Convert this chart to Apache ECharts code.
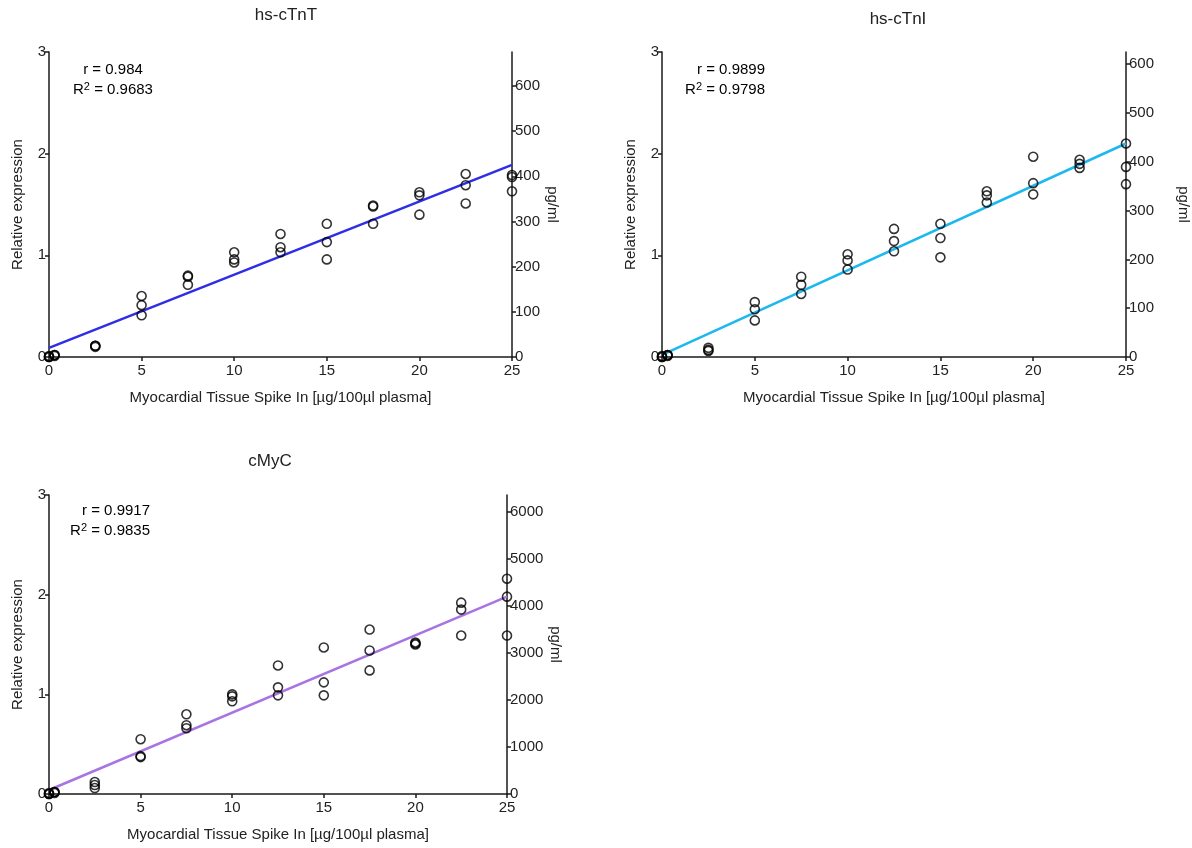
<!DOCTYPE html>
<html>
<head>
<meta charset="utf-8">
<script src="https://cdn.jsdelivr.net/npm/echarts@6/dist/echarts.min.js"></script>
<style>
html, body { margin: 0; padding: 0; background: #fff; }
#chart { width: 1192px; height: 848px; }
</style>
</head>
<body>
<div id="chart"></div>
<script>
// spike-in doses, µg/100µl plasma (3 replicates each)
const doses = [0, 0.3, 2.5, 5, 7.5, 10, 12.5, 15, 17.5, 20, 22.5, 25];

const tntValues = [
    [0, 0, 0.01], [0.01, 0.02, 0.02], [0.10, 0.11, 0.11], [0.60, 0.51, 0.41],
    [0.80, 0.79, 0.71], [1.03, 0.96, 0.93], [1.21, 1.08, 1.03], [1.31, 1.13, 0.96],
    [1.49, 1.48, 1.31], [1.62, 1.59, 1.40], [1.80, 1.69, 1.51], [1.79, 1.77, 1.63]
];
const tniValues = [
    [0, 0, 0.01], [0.01, 0.02, 0.02], [0.09, 0.07, 0.06], [0.54, 0.47, 0.36],
    [0.79, 0.71, 0.62], [1.01, 0.95, 0.86], [1.26, 1.14, 1.04], [1.31, 1.17, 0.98],
    [1.63, 1.59, 1.52], [1.97, 1.71, 1.60], [1.94, 1.90, 1.86], [2.10, 1.87, 1.70]
];
const cmycValues = [
    [0, 0, 0.01], [0.01, 0.02, 0.02], [0.12, 0.09, 0.06], [0.55, 0.38, 0.37],
    [0.80, 0.69, 0.66], [1.00, 0.98, 0.93], [1.29, 1.07, 0.99], [1.47, 1.12, 0.99],
    [1.65, 1.44, 1.24], [1.52, 1.51, 1.50], [1.92, 1.85, 1.59], [2.16, 1.98, 1.59]
];

// regression line end points at dose 0 and 25
const fitX = [0, 25];
const tntFit = [0.09, 1.89];
const tniFit = [0.02, 2.10];
const cmycFit = [0.04, 1.98];

const titles = ["hs-cTnT", "hs-cTnI", "cMyC"];
const rValues = ["0.984", "0.9899", "0.9917"];
const r2Values = ["0.9683", "0.9798", "0.9835"];

// right axis (pg/ml) range equal to 3 relative units
const pgMax = [675, 625, 6360];
const pgTicks = [
    [0, 100, 200, 300, 400, 500, 600],
    [0, 100, 200, 300, 400, 500, 600],
    [0, 1000, 2000, 3000, 4000, 5000, 6000]
];

const xName = "Myocardial Tissue Spike In [\u00b5g/100\u00b5l plasma]";
const lineColors = ["#2e2ee6", "#1cb8ee", "#a874e2"];

const FONT = "Liberation Sans";
const TXT = "#222";
const AX = "#1a1a1a";

const grids = [
    { left: 49, right: 680, top: 52, bottom: 491 },
    { left: 662, right: 66, top: 52, bottom: 491 },
    { left: 49, right: 685, top: 495, bottom: 54 }
];

function toPoints(values){
    const pts = [];
    for(let i = 0; i < doses.length; i++){
        values[i].forEach(v => pts.push([doses[i], v]));
    }
    return pts;
}

function axisLine(){
    return { show: true, lineStyle: { color: AX, width: 1.5 } };
}

const xAxes = [];
const yAxes = [];
const series = [];
const allValues = [tntValues, tniValues, cmycValues];
const allFits = [tntFit, tniFit, cmycFit];
const rightNameGap = [33, 50, 38];

for(let g = 0; g < 3; g++){

    xAxes.push({
        gridIndex: g,
        type: "value",
        min: 0,
        max: 25,
        interval: 5,
        name: xName,
        nameLocation: "middle",
        nameGap: 33,
        nameTextStyle: { fontFamily: FONT, fontSize: 15, color: TXT },
        axisLine: axisLine(),
        axisTick: { show: true, length: 4, lineStyle: { color: AX, width: 1.5 } },
        axisLabel: { fontFamily: FONT, fontSize: 15, color: TXT, margin: 6 },
        splitLine: { show: false }
    });

    yAxes.push({
        gridIndex: g,
        type: "value",
        position: "left",
        min: 0,
        max: 3,
        interval: 1,
        name: "Relative expression",
        nameLocation: "middle",
        nameGap: 24,
        nameTextStyle: { fontFamily: FONT, fontSize: 15, color: TXT },
        axisLine: axisLine(),
        axisTick: { show: true, length: 4, lineStyle: { color: AX, width: 1.5 } },
        axisLabel: { fontFamily: FONT, fontSize: 15, color: TXT, margin: 3 },
        splitLine: { show: false }
    });

    yAxes.push({
        gridIndex: g,
        type: "value",
        position: "right",
        min: 0,
        max: pgMax[g],
        name: "pg/ml",
        nameLocation: "middle",
        nameRotate: -90,
        nameGap: rightNameGap[g],
        nameTextStyle: { fontFamily: FONT, fontSize: 15, color: TXT },
        axisLine: axisLine(),
        axisTick: { show: true, length: 4, customValues: pgTicks[g], lineStyle: { color: AX, width: 1.5 } },
        axisLabel: {
            fontFamily: FONT, fontSize: 15, color: TXT, margin: 3,
            customValues: pgTicks[g],
            formatter: v => String(v)
        },
        splitLine: { show: false }
    });

    series.push({
        type: "line",
        xAxisIndex: g,
        yAxisIndex: g * 2,
        data: fitX.map((x, i) => [x, allFits[g][i]]),
        showSymbol: false,
        lineStyle: { color: lineColors[g], width: 2.5 },
        silent: true,
        z: 2
    });

    series.push({
        type: "scatter",
        xAxisIndex: g,
        yAxisIndex: g * 2,
        data: toPoints(allValues[g]),
        symbol: "circle",
        symbolSize: 9,
        itemStyle: { color: "rgba(0,0,0,0)", borderColor: "#000", borderWidth: 1.6 },
        z: 3
    });
}

const titleComps = [
    { text: titles[0], left: 281, top: 2 },
    { text: titles[1], left: 893, top: 6 },
    { text: titles[2], left: 265, top: 448 }
].map(t => ({
    text: t.text,
    left: t.left,
    top: t.top,
    textAlign: "center",
    textStyle: { fontFamily: FONT, fontSize: 17, fontWeight: "normal", color: TXT }
}));

const statPos = [
    { x: 113, y: 70, align: "center" },
    { x: 765, y: 70, align: "right" },
    { x: 150, y: 511, align: "right" }
];

const statRich = {
    n: { fontFamily: FONT, fontSize: 15, color: TXT, lineHeight: 18 },
    s: { fontFamily: FONT, fontSize: 11, color: TXT, lineHeight: 18, padding: [0, 0, 7, 0] }
};

const graphic = [];
for(let g = 0; g < 3; g++){
    graphic.push({
        type: "text",
        x: statPos[g].x,
        y: statPos[g].y,
        style: {
            text: "{n|r = " + rValues[g] + "}",
            rich: statRich,
            align: statPos[g].align,
            verticalAlign: "middle"
        }
    });
    graphic.push({
        type: "text",
        x: statPos[g].x,
        y: statPos[g].y + 20,
        style: {
            text: "{n|R}{s|2}{n| = " + r2Values[g] + "}",
            rich: statRich,
            align: statPos[g].align,
            verticalAlign: "middle"
        }
    });
}

const chart = echarts.init(document.getElementById("chart"));

chart.setOption({
    backgroundColor: "#fff",
    animation: false,
    title: titleComps,
    grid: grids,
    xAxis: xAxes,
    yAxis: yAxes,
    series: series,
    graphic: graphic
});
</script>
</body>
</html>
